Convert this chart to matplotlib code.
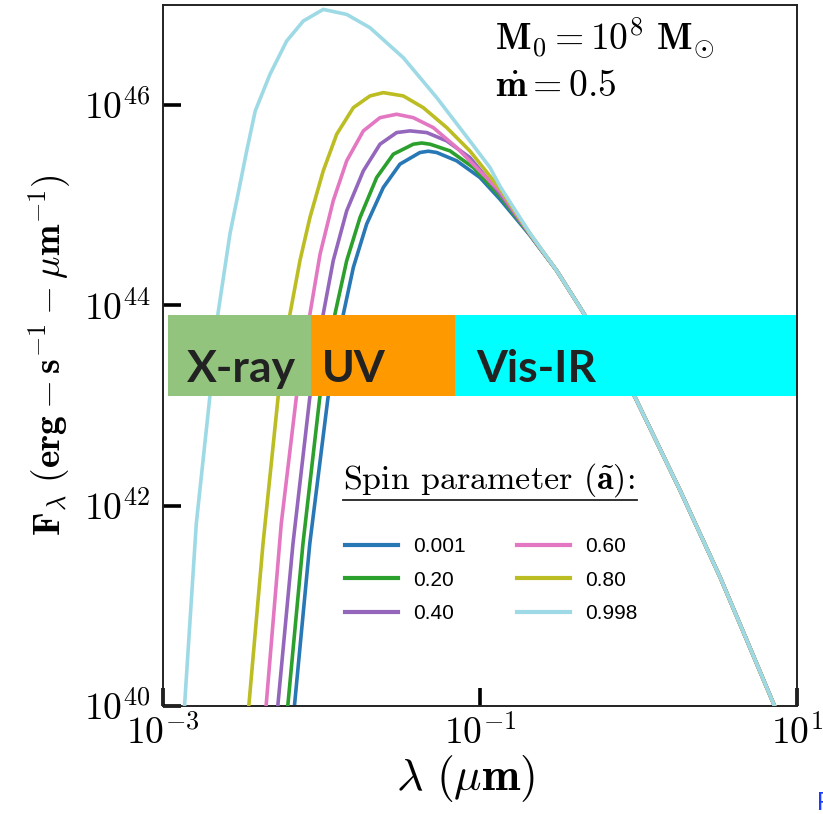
import numpy as np
import matplotlib
matplotlib.use("Agg")
import matplotlib.pyplot as plt

plt.rcParams['mathtext.fontset'] = 'cm'
plt.rcParams['font.family'] = ['DejaVu Sans']
plt.rcParams['axes.unicode_minus'] = False

# ---- data (log10 lambda [um], log10 F_lambda) ----
spins = ["0.001", "0.20", "0.40", "0.60", "0.80", "0.998"]
colors = ["#2878b5", "#2ca02c", "#9467bd", "#e377c2", "#bcbd22", "#9edae5"]

# common long-wavelength tail (all spins merge)
tail_lam = [-0.685, -0.516, -0.369, -0.022, 0.262, 0.514, 0.683, 0.851, 0.880]
tail_F = [44.713, 44.347, 43.981, 43.084, 42.154, 41.289, 40.658, 40.027, 39.920]
tail_start_offset = [-0.012, -0.008, -0.004, 0.0, 0.004, 0.008]

lam_0001 = [-2.183, -2.169, -2.074, -1.959, -1.862, -1.799, -1.715, -1.610, -1.505, -1.379, -1.326, -1.273, -1.147, -1.000, -0.874]
F_0001 = [39.80, 40.03, 41.62, 43.08, 43.915, 44.380, 44.813, 45.178, 45.411, 45.527, 45.540, 45.527, 45.444, 45.277, 45.060]

lam_020 = [-2.225, -2.211, -2.117, -2.011, -1.915, -1.841, -1.757, -1.652, -1.547, -1.421, -1.368, -1.315, -1.189, -1.042, -0.874]
F_020 = [39.80, 40.03, 41.62, 43.08, 43.915, 44.447, 44.878, 45.277, 45.510, 45.610, 45.622, 45.610, 45.543, 45.377, 45.090]

lam_040 = [-2.288, -2.274, -2.180, -2.074, -1.989, -1.926, -1.841, -1.736, -1.631, -1.526, -1.442, -1.336, -1.210, -1.064, -0.874]
F_040 = [39.80, 40.03, 41.62, 43.08, 43.915, 44.447, 44.945, 45.344, 45.610, 45.726, 45.743, 45.726, 45.643, 45.477, 45.115]

lam_060 = [-2.360, -2.348, -2.254, -2.159, -2.073, -2.009, -1.926, -1.841, -1.736, -1.631, -1.526, -1.421, -1.295, -1.147, -1.000, -0.874]
F_060 = [39.80, 40.03, 41.82, 43.08, 43.915, 44.513, 45.045, 45.444, 45.743, 45.875, 45.909, 45.875, 45.776, 45.576, 45.340, 45.140]

lam_080 = [-2.470, -2.457, -2.369, -2.274, -2.199, -2.136, -2.073, -1.989, -1.904, -1.799, -1.694, -1.610, -1.484, -1.358, -1.210, -1.064, -0.874]
F_080 = [39.80, 40.03, 41.62, 43.08, 43.914, 44.447, 44.878, 45.344, 45.710, 45.975, 46.092, 46.125, 46.092, 45.975, 45.776, 45.543, 45.165]

lam_0998 = [-2.872, -2.863, -2.790, -2.705, -2.653, -2.577, -2.535, -2.472, -2.418, -2.325, -2.220, -2.115, -1.989, -1.841, -1.694, -1.484, -1.273, -1.064, -0.937, -0.874]
F_0998 = [39.80, 40.03, 41.82, 43.08, 43.92, 44.72, 45.045, 45.543, 45.942, 46.308, 46.640, 46.840, 46.956, 46.906, 46.773, 46.474, 46.075, 45.643, 45.377, 45.190]

series_lam = [lam_0001, lam_020, lam_040, lam_060, lam_080, lam_0998]
series_F = [F_0001, F_020, F_040, F_060, F_080, F_0998]

band_names = ["X-ray", "UV", "Vis-IR"]
band_colors = ["#93c47d", "#ff9900", "#00ffff"]
band_edges_log = [-2.968, -2.066, -1.158, 0.995]

fig = plt.figure(figsize=(8.23, 8.14), dpi=100)
ax = fig.add_axes([163/823, 108/814, 634/823, 701/814])

for i, (lx, lf) in enumerate(zip(series_lam, series_F)):
    lam = np.array(lx + tail_lam)
    F = np.array(lf + [tail_F[0] + tail_start_offset[i]] + tail_F[1:])
    ax.plot(10**lam, 10**F, color=colors[i], lw=2.6, label=spins[i],
            solid_joinstyle='round', zorder=2 + i)

ax.set_xscale('log')
ax.set_yscale('log')
ax.set_xlim(1e-3, 1e1)
ax.set_ylim(1e40, 1e47)
ax.set_xticks([1e-3, 1e-1, 1e1])
ax.set_yticks([1e40, 1e42, 1e44, 1e46])
ax.minorticks_off()
ax.set_xticklabels([r'$10^{-3}$', r'$10^{-1}$', r'$10^{1}$'])
ax.set_yticklabels([r'$10^{40}$', r'$10^{42}$', r'$10^{44}$', r'$10^{46}$'])
ax.tick_params(direction='in', length=13, width=2.6, labelsize=27, pad=7,
               color='black', top=False, right=False)
ax.tick_params(axis='y', pad=9)
for s in ax.spines.values():
    s.set_linewidth(1.4)
    s.set_color('#222222')

ax.set_ylabel(r'$\mathbf{F}_{\lambda}\ (\mathbf{erg} - \mathbf{s}^{-1} - \mu\mathbf{m}^{-1})$',
              fontsize=27, labelpad=8)
ax.set_xlabel(r'$\lambda\ (\mu\mathbf{m})$', fontsize=33)
ax.xaxis.set_label_coords((466 - 163) / 634, -0.067)

# spectral bands
for k in range(3):
    ax.axvspan(10**band_edges_log[k], 10**band_edges_log[k + 1],
               ymin=0.442, ymax=0.558, color=band_colors[k], lw=0, zorder=10)
text_x = [0.038, 0.251, 0.494]
for k in range(3):
    ax.text(text_x[k], 0.462, band_names[k], transform=ax.transAxes,
            fontsize=32, fontweight='bold', family='Lato', color='#222222',
            va='baseline', ha='left', zorder=11)

# annotation
fig.text(495/823, 1 - 50/814, r'$\mathbf{M_0 = 10^8\ M}_{\odot}$',
         fontsize=27, va='baseline', ha='left')
fig.text(495/823, 1 - 96/814, r'$\mathbf{\dot{m} = 0.5}$',
         fontsize=27, va='baseline', ha='left')

# legend
fig.text(343/823, 1 - 489/814, r'Spin parameter ($\tilde{\mathbf{a}}$):',
         family='cmr10', fontsize=24.5, va='baseline', ha='left')
fig.add_artist(plt.Line2D([343/823, 637/823], [1 - 500/814, 1 - 500/814],
                          transform=fig.transFigure, color='#222222', lw=1.3))
leg = ax.legend(loc='upper left', bbox_to_anchor=(345/823, 1 - 537/814),
                bbox_transform=fig.transFigure, ncol=2, frameon=False,
                borderpad=0, borderaxespad=0, handlelength=2.55, handletextpad=0.72,
                columnspacing=2.45, labelspacing=0.70,
                prop={'family': 'Liberation Sans', 'size': 15})
for h in leg.get_lines():
    h.set_linewidth(3.0)

fig.text(817/823, 1 - 810/814, 'F', color='#1a3cff', fontsize=18,
         family='Liberation Sans', va='baseline', ha='left')

fig.savefig('out.png', dpi=100)
